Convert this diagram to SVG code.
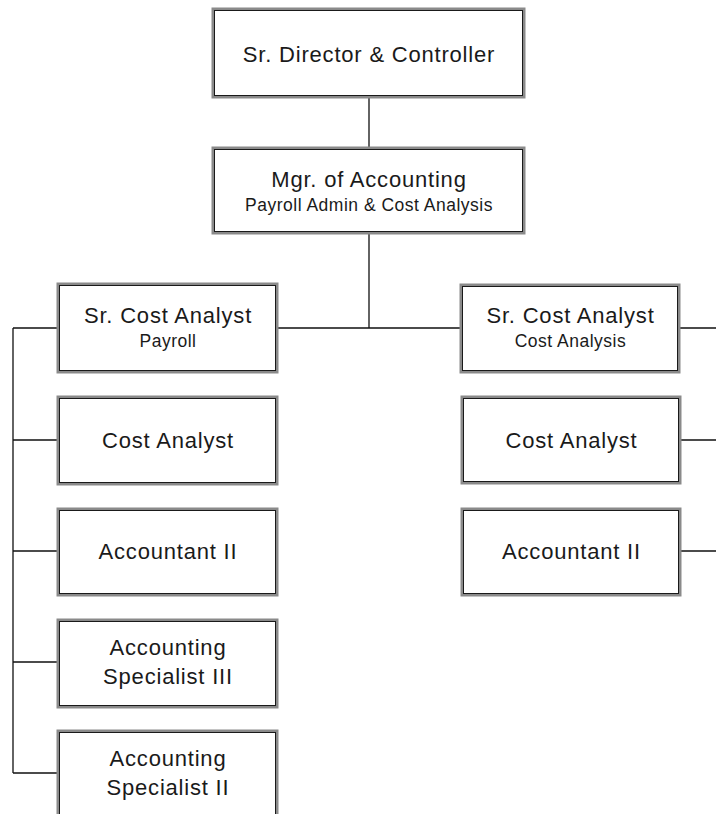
<svg xmlns="http://www.w3.org/2000/svg" width="716" height="814" viewBox="0 0 716 814">
<style>
.b{fill:#fff;stroke:#8a8a8a;stroke-width:3}
.i{fill:none;stroke:#1a1a1a;stroke-width:1}
.t{font-family:"Liberation Sans",Arial,sans-serif;font-size:22px;letter-spacing:0.8px;fill:#1a1a1a;text-anchor:middle}
.s{font-family:"Liberation Sans",Arial,sans-serif;font-size:17.5px;letter-spacing:0.5px;fill:#1a1a1a;text-anchor:middle}
.c{fill:none;stroke:#111;stroke-width:1.3}
</style>
<g id="connectors">
<path class="c" d="M369 97V147M369 233V328M277 328H462M13 328H58M13 328V773M13 440H58M13 551H58M13 662H58M13 773H58M679 328H716M680 440H716M680 551H716"/>
</g>
<g id="n-director"><rect class="b" x="213" y="9" width="311" height="88"/><rect class="i" x="214.5" y="10.5" width="308" height="85"/><text class="t" x="369" y="62">Sr. Director &amp; Controller</text></g>
<g id="n-mgr"><rect class="b" x="213" y="148" width="311" height="85"/><rect class="i" x="214.5" y="149.5" width="308" height="82"/><text class="t" x="369" y="187">Mgr. of Accounting</text><text class="s" x="369" y="211">Payroll Admin &amp; Cost Analysis</text></g>
<g id="n-sca-payroll"><rect class="b" x="58" y="284" width="219" height="88"/><rect class="i" x="59.5" y="285.5" width="216" height="85"/><text class="t" x="168" y="323">Sr. Cost Analyst</text><text class="s" x="168" y="347">Payroll</text></g>
<g id="n-sca-cost"><rect class="b" x="461" y="285" width="218" height="87"/><rect class="i" x="462.5" y="286.5" width="215" height="84"/><text class="t" x="570.5" y="323">Sr. Cost Analyst</text><text class="s" x="570.5" y="347">Cost Analysis</text></g>
<g id="n-ca-left"><rect class="b" x="58" y="397" width="219" height="87"/><rect class="i" x="59.5" y="398.5" width="216" height="84"/><text class="t" x="168" y="448">Cost Analyst</text></g>
<g id="n-ca-right"><rect class="b" x="462" y="397" width="218" height="86"/><rect class="i" x="463.5" y="398.5" width="215" height="83"/><text class="t" x="571.5" y="448">Cost Analyst</text></g>
<g id="n-acc-left"><rect class="b" x="58" y="509" width="219" height="86"/><rect class="i" x="59.5" y="510.5" width="216" height="83"/><text class="t" x="168" y="559">Accountant II</text></g>
<g id="n-acc-right"><rect class="b" x="462" y="509" width="218" height="86"/><rect class="i" x="463.5" y="510.5" width="215" height="83"/><text class="t" x="571.5" y="559">Accountant II</text></g>
<g id="n-as3"><rect class="b" x="58" y="620" width="219" height="87"/><rect class="i" x="59.5" y="621.5" width="216" height="84"/><text class="t" x="168" y="655">Accounting</text><text class="t" x="168" y="684">Specialist III</text></g>
<g id="n-as2"><rect class="b" x="58" y="731" width="219" height="90"/><rect class="i" x="59.5" y="732.5" width="216" height="87"/><text class="t" x="168" y="766">Accounting</text><text class="t" x="168" y="795">Specialist II</text></g>
</svg>
